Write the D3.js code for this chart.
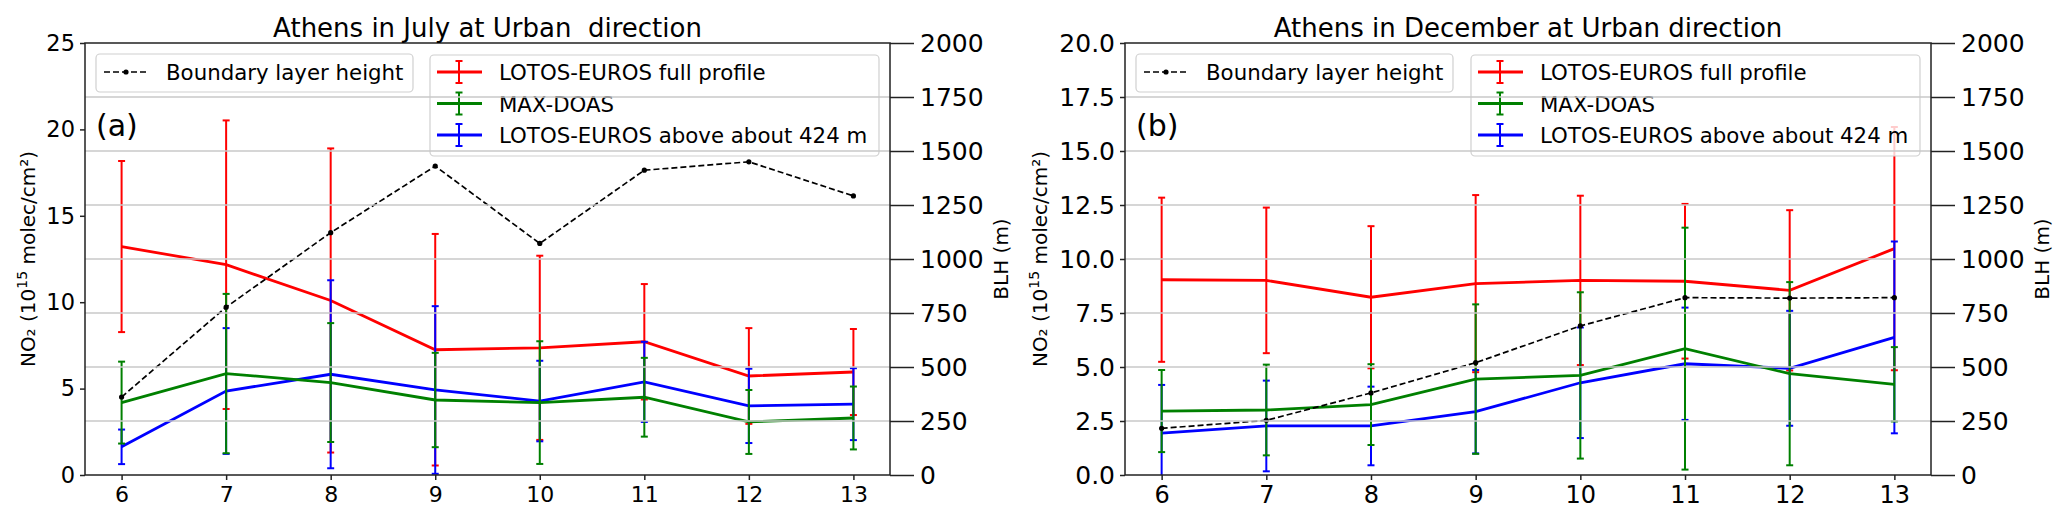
<!DOCTYPE html>
<html>
<head>
<meta charset="utf-8">
<script src="https://cdn.jsdelivr.net/npm/d3@7"></script>
<style>
  body { margin: 0; background: #fff; }
  text { font-family: "DejaVu Sans", sans-serif; fill: #000; }
</style>
</head>
<body>
<script>
const hours = [6, 7, 8, 9, 10, 11, 12, 13];

// July panel (a)
const julFull = [13.22, 12.17, 10.10, 7.25, 7.36, 7.71, 5.73, 5.96];
const julFullErr = [4.95, 8.35, 8.80, 6.70, 5.33, 3.34, 2.77, 2.49];
const julMaxdoas = [4.19, 5.87, 5.35, 4.34, 4.19, 4.50, 3.07, 3.30];
const julMaxdoasErr = [2.37, 4.61, 3.44, 2.73, 3.55, 2.28, 1.85, 1.82];
const julAbove = [1.63, 4.86, 5.83, 4.92, 4.28, 5.39, 4.00, 4.10];
const julAboveErr = [1.00, 3.64, 5.44, 4.85, 2.33, 2.32, 2.15, 2.08];
const julBlh = [361, 777, 1122, 1430, 1072, 1411, 1450, 1292];

// December panel (b)
const decFull = [9.04, 9.01, 8.23, 8.86, 9.01, 8.97, 8.55, 10.48];
const decFullErr = [3.80, 3.37, 3.29, 4.10, 3.92, 3.58, 3.71, 5.63];
const decMaxdoas = [2.96, 3.01, 3.26, 4.44, 4.61, 5.85, 4.69, 4.20];
const decMaxdoasErr = [1.90, 2.10, 1.87, 3.46, 3.85, 5.60, 4.24, 1.72];
const decAbove = [1.94, 2.27, 2.27, 2.93, 4.27, 5.15, 4.94, 6.37];
const decAboveErr = [2.23, 2.10, 1.82, 1.93, 2.56, 2.60, 2.66, 4.44];
const decBlh = [216, 253, 380, 520, 690, 821, 819, 821];

const julTicks = [0, 5, 10, 15, 20, 25];
const decTicks = [0, 2.5, 5, 7.5, 10, 12.5, 15, 17.5, 20];
const blhTicks = [0, 250, 500, 750, 1000, 1250, 1500, 1750, 2000];

const seriesNames = ["LOTOS-EUROS full profile", "MAX-DOAS", "LOTOS-EUROS above about 424 m"];
const seriesColors = ["#ff0000", "#008000", "#0000ff"];

const svg = d3.select("body").append("svg")
    .attr("width", 2067)
    .attr("height", 522);

function drawPanel(p) {
    let x = d3.scaleLinear().domain([5.65, 13.35]).range([p.left, p.right]);
    let y = d3.scaleLinear().domain([0, p.ymax]).range([475, 43]);
    let y2 = d3.scaleLinear().domain([0, 2000]).range([475, 43]);

    let g = svg.append("g");
    let clipId = "clip" + p.tag;
    g.append("clipPath").attr("id", clipId)
        .append("rect")
        .attr("x", p.left).attr("y", 43)
        .attr("width", p.right - p.left).attr("height", 432);

    let plot = g.append("g").attr("clip-path", `url(#${clipId})`);

    // series: draw order red, blue, green (green ends on top)
    let series = [
        {v: p.full, e: p.fullErr, c: seriesColors[0]},
        {v: p.above, e: p.aboveErr, c: seriesColors[2]},
        {v: p.maxdoas, e: p.maxdoasErr, c: seriesColors[1]}
    ];
    let line = d3.line().x((d, i) => x(hours[i])).y(d => y(d));

    series.forEach(s => {
        let eb = plot.append("g").attr("stroke", s.c).attr("stroke-width", 2);
        hours.forEach((h, i) => {
            let lo = s.v[i] - s.e[i], hi = s.v[i] + s.e[i];
            eb.append("line")
                .attr("x1", x(h)).attr("x2", x(h))
                .attr("y1", y(lo)).attr("y2", y(hi));
            [lo, hi].forEach(c => {
                eb.append("line")
                    .attr("x1", x(h) - 3.5).attr("x2", x(h) + 3.5)
                    .attr("y1", y(c)).attr("y2", y(c));
            });
        });
        plot.append("path")
            .datum(s.v)
            .attr("d", line)
            .attr("fill", "none")
            .attr("stroke", s.c)
            .attr("stroke-width", 2.8);
    });

    // legend for NO2 series (belongs to the first axes)
    let lx = p.right - 11 - 449, ly = 55;
    let leg = g.append("g");
    leg.append("rect")
        .attr("x", lx).attr("y", ly)
        .attr("width", 449).attr("height", 101)
        .attr("rx", 4)
        .attr("fill", "#fff").attr("fill-opacity", 0.8)
        .attr("stroke", "#d0d0d0").attr("stroke-width", 1.2);
    seriesNames.forEach((name, i) => {
        let cy = 72 + i * 31.5;
        let hg = leg.append("g").attr("stroke", seriesColors[i]).attr("stroke-width", 2);
        hg.append("line").attr("x1", lx + 7).attr("x2", lx + 52).attr("y1", cy).attr("y2", cy).attr("stroke-width", 2.8);
        hg.append("line").attr("x1", lx + 29).attr("x2", lx + 29).attr("y1", cy - 11).attr("y2", cy + 11);
        hg.append("line").attr("x1", lx + 25.5).attr("x2", lx + 32.5).attr("y1", cy - 11).attr("y2", cy - 11);
        hg.append("line").attr("x1", lx + 25.5).attr("x2", lx + 32.5).attr("y1", cy + 11).attr("y2", cy + 11);
        leg.append("text")
            .attr("x", lx + 69).attr("y", cy + 8)
            .style("font-size", "21.3px")
            .text(name);
    });

    // twin axes: grid from BLH ticks, BLH line, BLH legend
    g.append("g").selectAll("line")
        .data(blhTicks.slice(1, -1))
        .join("line")
        .attr("x1", p.left).attr("x2", p.right)
        .attr("y1", d => y2(d)).attr("y2", d => y2(d))
        .attr("stroke", "#c8c8c8").attr("stroke-width", 1.5);

    let blhLine = d3.line().x((d, i) => x(hours[i])).y(d => y2(d));
    plot.append("path")
        .datum(p.blh)
        .attr("d", blhLine)
        .attr("fill", "none")
        .attr("stroke", "#000")
        .attr("stroke-width", 1.7)
        .attr("stroke-dasharray", "6,3");
    plot.append("g").selectAll("circle")
        .data(p.blh)
        .join("circle")
        .attr("cx", (d, i) => x(hours[i]))
        .attr("cy", d => y2(d))
        .attr("r", 2.6)
        .attr("fill", "#000");

    let bx = p.left + 11, by = 54;
    g.append("rect")
        .attr("x", bx).attr("y", by)
        .attr("width", 317).attr("height", 38)
        .attr("rx", 4)
        .attr("fill", "#fff").attr("fill-opacity", 0.8)
        .attr("stroke", "#d0d0d0").attr("stroke-width", 1.2);
    g.append("line")
        .attr("x1", bx + 8).attr("x2", bx + 51)
        .attr("y1", 72).attr("y2", 72)
        .attr("stroke", "#000").attr("stroke-width", 1.7)
        .attr("stroke-dasharray", "6,3");
    g.append("circle").attr("cx", bx + 30).attr("cy", 72).attr("r", 2.6).attr("fill", "#000");
    g.append("text")
        .attr("x", bx + 70).attr("y", 80)
        .style("font-size", "21.3px")
        .text("Boundary layer height");

    // panel letter
    g.append("text")
        .attr("x", p.left + 11).attr("y", 136)
        .style("font-size", "30px")
        .text(p.letter);

    // axes
    let xa = g.append("g")
        .attr("transform", "translate(0,475)")
        .call(d3.axisBottom(x).tickValues(hours).tickSize(5).tickPadding(6).tickFormat(d => d));
    xa.selectAll("text").style("font-size", p.xFont);

    let ya = g.append("g")
        .attr("transform", `translate(${p.left},0)`)
        .call(d3.axisLeft(y).tickValues(p.ticks).tickSize(5).tickPadding(5).tickFormat(p.fmt));
    ya.selectAll("text").style("font-size", p.yFont);

    let ya2 = g.append("g")
        .attr("transform", `translate(${p.right},0)`)
        .call(d3.axisRight(y2).tickValues(blhTicks).tickSize(24).tickPadding(6).tickFormat(d => d));
    ya2.selectAll("text").style("font-size", "25px");

    [xa, ya, ya2].forEach(a => {
        a.select(".domain").remove();
        a.selectAll("line").attr("stroke", "#222").attr("stroke-width", 1.5);
    });

    g.append("rect")
        .attr("x", p.left).attr("y", 43)
        .attr("width", p.right - p.left).attr("height", 432)
        .attr("fill", "none").attr("stroke", "#222").attr("stroke-width", 1.5);

    // titles and axis labels
    g.append("text")
        .attr("x", (p.left + p.right) / 2).attr("y", 37)
        .attr("text-anchor", "middle")
        .style("font-size", "26px")
        .style("white-space", "pre")
        .text(p.title);

    let nl = g.append("text")
        .attr("transform", `translate(${p.left - p.labelOff},259) rotate(-90)`)
        .attr("text-anchor", "middle")
        .style("font-size", "20px");
    nl.append("tspan").text("NO\u2082 (10");
    nl.append("tspan").attr("dy", -8).style("font-size", "14px").text("15");
    nl.append("tspan").attr("dy", 8).text(" molec/cm\u00b2)");

    g.append("text")
        .attr("transform", `translate(${p.right + 118},259) rotate(-90)`)
        .attr("text-anchor", "middle")
        .style("font-size", "20px")
        .text("BLH (m)");
}

drawPanel({
    tag: "a", letter: "(a)", title: "Athens in July at Urban  direction",
    left: 85, right: 890, ymax: 25, ticks: julTicks, fmt: d => d,
    xFont: "22px", yFont: "22.5px", labelOff: 50,
    full: julFull, fullErr: julFullErr,
    maxdoas: julMaxdoas, maxdoasErr: julMaxdoasErr,
    above: julAbove, aboveErr: julAboveErr,
    blh: julBlh
});

drawPanel({
    tag: "b", letter: "(b)", title: "Athens in December at Urban direction",
    left: 1125, right: 1931, ymax: 20, ticks: decTicks, fmt: d3.format(".1f"),
    xFont: "24px", yFont: "25px", labelOff: 78,
    full: decFull, fullErr: decFullErr,
    maxdoas: decMaxdoas, maxdoasErr: decMaxdoasErr,
    above: decAbove, aboveErr: decAboveErr,
    blh: decBlh
});
</script>
</body>
</html>
